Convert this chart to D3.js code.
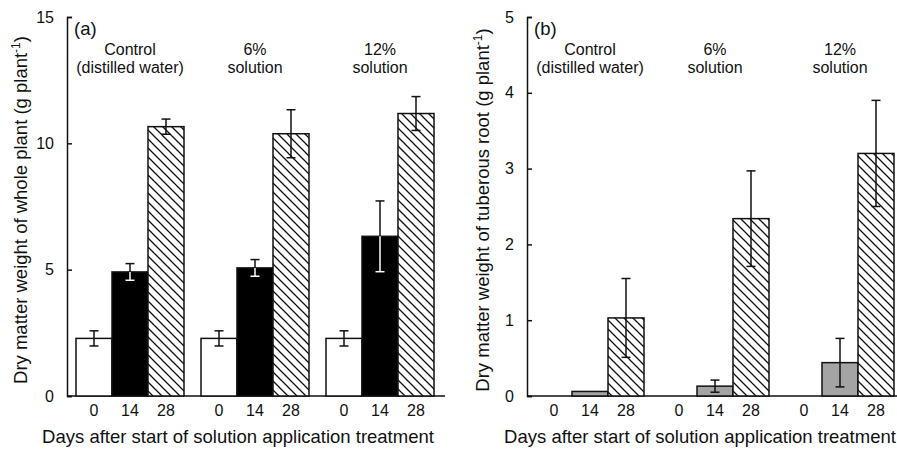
<!DOCTYPE html>
<html><head><meta charset="utf-8">
<script src="https://cdn.jsdelivr.net/npm/d3@7"></script>
<style>
body{margin:0;background:#fff;}
svg{display:block;font-family:"Liberation Sans",Arial,Helvetica,sans-serif;}
</style></head>
<body><svg id="c" width="897" height="451"></svg>
<script>
// ---- data ----
const days = ["0", "14", "28"];
const groupLine1 = ["Control", "6%", "12%"];
const groupLine2 = ["(distilled water)", "solution", "solution"];

// (a) whole plant dry matter (g plant-1): per day, across groups
const wholeDay0  = [2.28, 2.28, 2.28];
const wholeDay14 = [4.91, 5.07, 6.32];
const wholeDay28 = [10.66, 10.38, 11.18];
const wholeErr0  = [0.30, 0.30, 0.30];
const wholeErr14 = [0.33, 0.33, 1.40];
const wholeErr28 = [0.30, 0.95, 0.67];

// (b) tuberous root dry matter (g plant-1)
const rootDay0  = [0, 0, 0];
const rootDay14 = [0.06, 0.13, 0.44];
const rootDay28 = [1.03, 2.34, 3.20];
const rootErr0  = [0, 0, 0];
const rootErr14 = [0, 0.08, 0.32];
const rootErr28 = [0.52, 0.63, 0.70];

const yTicksA = [0, 5, 10, 15];
const yTicksB = [0, 1, 2, 3, 4, 5];

const svg = d3.select("#c");
const defs = svg.append("defs");
const pat = defs.append("pattern").attr("id", "hatch").attr("patternUnits", "userSpaceOnUse")
  .attr("width", 9).attr("height", 9);
pat.append("rect").attr("width", 9).attr("height", 9).attr("fill", "#fff");
pat.append("path").attr("d", "M-2,-2 L11,11 M-2,7 L2,11 M7,-2 L11,2")
  .attr("stroke", "#111").attr("stroke-width", 1.3);

function panel(cfg) {
  const g = svg.append("g");
  const y = d3.scaleLinear().domain([0, cfg.ymax]).range([396, 17]);
  const xg = d3.scaleBand().domain([0, 1, 2]).range([cfg.ax + 9, cfg.ax + 9 + 358])
    .paddingInner(0.136).paddingOuter(0);
  const xd = d3.scaleBand().domain(days).range([0, xg.bandwidth()]);

  // y axis
  const yAxis = d3.axisLeft(y).tickValues(cfg.ticks).tickFormat(d3.format("d"))
    .tickSizeInner(-5).tickSizeOuter(-5).tickPadding(13);
  const ya = g.append("g").attr("transform", `translate(${cfg.ax},0)`).call(yAxis);
  ya.select(".domain").attr("stroke", "#111").attr("stroke-width", 1.5);
  ya.selectAll(".tick line").attr("stroke", "#111").attr("stroke-width", 1.5);
  ya.selectAll(".tick text").attr("font-size", 16).attr("fill", "#111")
    .attr("font-family", "Liberation Sans, Arial, sans-serif");

  // x axis line
  g.append("line").attr("x1", cfg.ax).attr("x2", cfg.xend).attr("y1", y(0)).attr("y2", y(0))
    .attr("stroke", "#111").attr("stroke-width", 1.5);

  const series = [
    {day: "0", vals: cfg.v0, errs: cfg.e0, fill: "#fff", low: "#111"},
    {day: "14", vals: cfg.v14, errs: cfg.e14, fill: cfg.fill14, low: cfg.low14},
    {day: "28", vals: cfg.v28, errs: cfg.e28, fill: "url(#hatch)", low: "#111"}
  ];
  series.forEach(s => {
    s.vals.forEach((v, i) => {
      const x0 = xg(i) + xd(s.day);
      const w = xd.bandwidth();
      if (v > 0) {
        g.append("rect").attr("x", x0).attr("y", y(v)).attr("width", w).attr("height", y(0) - y(v))
          .attr("fill", s.fill).attr("stroke", "#111").attr("stroke-width", 1.5);
      }
      const e = s.errs[i];
      if (e > 0) {
        const cx = x0 + w / 2, cw = 4.5;
        g.append("line").attr("x1", cx).attr("x2", cx).attr("y1", y(v)).attr("y2", y(v + e))
          .attr("stroke", "#111").attr("stroke-width", 1.5);
        g.append("line").attr("x1", cx - cw).attr("x2", cx + cw).attr("y1", y(v + e)).attr("y2", y(v + e))
          .attr("stroke", "#111").attr("stroke-width", 1.5);
        g.append("line").attr("x1", cx).attr("x2", cx).attr("y1", y(v)).attr("y2", y(v - e))
          .attr("stroke", s.low).attr("stroke-width", 1.5);
        g.append("line").attr("x1", cx - cw).attr("x2", cx + cw).attr("y1", y(v - e)).attr("y2", y(v - e))
          .attr("stroke", s.low).attr("stroke-width", 1.5);
      }
    });
  });

  // x labels
  [0, 1, 2].forEach(i => {
    days.forEach(d => {
      g.append("text").attr("x", xg(i) + xd(d) + xd.bandwidth() / 2).attr("y", 416)
        .attr("text-anchor", "middle").attr("font-size", 16).attr("fill", "#111").text(d);
    });
    g.append("text").attr("x", xg(i) + xg.bandwidth() / 2).attr("y", 55)
      .attr("text-anchor", "middle").attr("font-size", 16).attr("fill", "#111").text(groupLine1[i]);
    g.append("text").attr("x", xg(i) + xg.bandwidth() / 2).attr("y", 73)
      .attr("text-anchor", "middle").attr("font-size", 16).attr("fill", "#111").text(groupLine2[i]);
  });

  g.append("text").attr("x", cfg.ax + 7).attr("y", 35).attr("font-size", 18.5).attr("fill", "#111").text(cfg.tag);

  // x title
  g.append("text").attr("x", cfg.titleX).attr("y", 443).attr("text-anchor", "middle")
    .attr("font-size", 18.5).attr("fill", "#111").text("Days after start of solution application treatment");

  // y title
  const yt = g.append("text").attr("transform", `translate(${cfg.ylx},210) rotate(-90)`)
    .attr("text-anchor", "middle").attr("font-size", 18.5).attr("fill", "#111");
  yt.append("tspan").text(cfg.ylabel);
  yt.append("tspan").attr("font-size", 12).attr("dy", -7).text("-1");
  yt.append("tspan").attr("dy", 7).text(")");
}

panel({ax: 67, xend: 445, ymax: 15, ticks: yTicksA, v0: wholeDay0, v14: wholeDay14, v28: wholeDay28,
  e0: wholeErr0, e14: wholeErr14, e28: wholeErr28, fill14: "#000", low14: "#fff", tag: "(a)",
  titleX: 238, ylx: 27, ylabel: "Dry matter weight of whole plant (g plant"});
panel({ax: 527, xend: 897, ymax: 5, ticks: yTicksB, v0: rootDay0, v14: rootDay14, v28: rootDay28,
  e0: rootErr0, e14: rootErr14, e28: rootErr28, fill14: "#a4a4a4", low14: "#111", tag: "(b)",
  titleX: 700, ylx: 489, ylabel: "Dry matter weight of tuberous root (g plant"});
</script></body></html>
